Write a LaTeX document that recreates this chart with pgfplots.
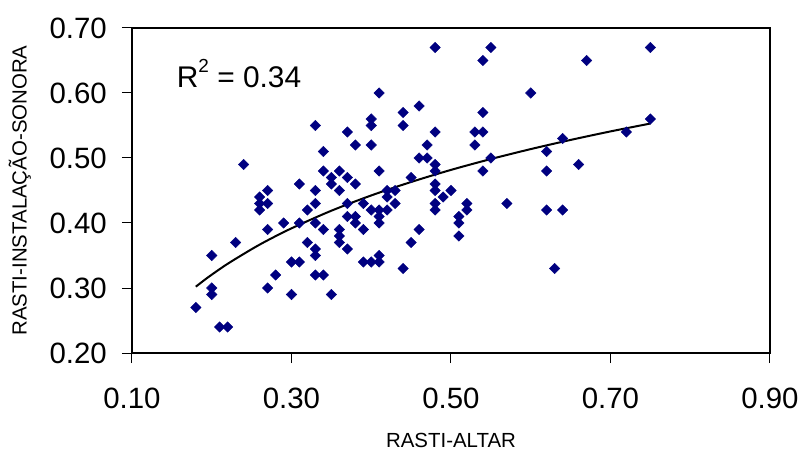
\documentclass[border=0pt]{standalone}
\usepackage{fontspec}
\setmainfont{Liberation Sans}
\usepackage{pgfplots}
\pgfplotsset{compat=1.18}
\definecolor{navy}{RGB}{0,0,128}
\begin{document}
\begin{tikzpicture}
\begin{axis}[
  scale only axis,
  width=638bp, height=325bp,
  xmin=0.1, xmax=0.9, ymin=0.2, ymax=0.7,
  xtick={0.1,0.3,0.5,0.7,0.9},
  ytick={0.2,0.3,0.4,0.5,0.6,0.7},
  xtick pos=bottom, ytick pos=left,
  tick align=outside,
  major tick length=10bp,
  tick style={black, line width=1bp},
  axis line style={black, line width=1.2bp},
  /pgf/number format/.cd, fixed, fixed zerofill, precision=2, assume math mode=true,
  /pgfplots/.cd,
  ticklabel style={font=\fontsize{29.5}{29.5}\selectfont, inner sep=0pt},
  xticklabel style={anchor=north, yshift=-25bp},
  yticklabel style={anchor=east, xshift=-15bp},
  xlabel={RASTI-ALTAR},
  ylabel={RASTI-INSTALAÇÃO-SONORA},
  label style={font=\fontsize{20.5}{20.5}\selectfont},
  xlabel style={at={(axis description cs:0.5,-0.27)}, anchor=center},
  ylabel style={at={(axis description cs:-0.176,0.5)}, anchor=center, rotate=0},
  clip=false,
]
\addplot[only marks, mark=square*, mark size=3.7bp, mark options={rotate=45, navy, fill=navy}] coordinates {
(0.18,0.27) (0.20,0.35) (0.20,0.30) (0.20,0.29) (0.21,0.24) (0.22,0.24)
(0.23,0.37) (0.26,0.44) (0.27,0.45) (0.26,0.43) (0.27,0.43) (0.26,0.42)
(0.27,0.39) (0.27,0.30) (0.28,0.32) (0.29,0.40) (0.30,0.34) (0.31,0.34)
(0.30,0.29) (0.31,0.46) (0.31,0.40) (0.32,0.42) (0.32,0.37) (0.33,0.45)
(0.33,0.43) (0.33,0.40) (0.33,0.36) (0.33,0.35) (0.33,0.32) (0.34,0.32)
(0.34,0.39) (0.35,0.29) (0.35,0.46) (0.24,0.49) (0.33,0.55) (0.34,0.51)
(0.34,0.48) (0.35,0.47) (0.36,0.48) (0.48,0.67) (0.55,0.67) (0.54,0.65)
(0.41,0.60) (0.60,0.60) (0.46,0.58) (0.44,0.57) (0.54,0.57) (0.40,0.56)
(0.40,0.55) (0.44,0.55) (0.37,0.54) (0.48,0.54) (0.53,0.54) (0.54,0.54)
(0.38,0.52) (0.40,0.52) (0.47,0.52) (0.53,0.52) (0.62,0.51) (0.46,0.50)
(0.47,0.50) (0.55,0.50) (0.48,0.49) (0.48,0.48) (0.54,0.48) (0.62,0.48)
(0.37,0.47) (0.41,0.48) (0.45,0.47) (0.38,0.46) (0.48,0.46) (0.42,0.45)
(0.43,0.45) (0.48,0.45) (0.50,0.45) (0.49,0.44) (0.42,0.44) (0.37,0.43)
(0.39,0.43) (0.43,0.43) (0.48,0.43) (0.48,0.42) (0.52,0.43) (0.52,0.42)
(0.57,0.43) (0.40,0.42) (0.41,0.42) (0.42,0.42) (0.62,0.42) (0.64,0.42)
(0.37,0.41) (0.38,0.41) (0.41,0.41) (0.51,0.41) (0.38,0.40) (0.41,0.40)
(0.51,0.40) (0.39,0.39) (0.36,0.39) (0.36,0.38) (0.36,0.37) (0.46,0.39)
(0.51,0.38) (0.45,0.37) (0.37,0.36) (0.41,0.35) (0.39,0.34) (0.40,0.34)
(0.41,0.34) (0.44,0.33) (0.63,0.33) (0.67,0.65) (0.75,0.67) (0.75,0.56)
(0.72,0.54) (0.64,0.53) (0.66,0.49) (0.36,0.45)
};
\addplot[black, line width=2bp, smooth, no marks] coordinates {
(0.18,0.3020) (0.19,0.3115) (0.20,0.3205) (0.22,0.3373) (0.25,0.3597)
(0.27,0.3733) (0.30,0.3918) (0.35,0.4189) (0.40,0.4424) (0.45,0.4631)
(0.50,0.4817) (0.55,0.4984) (0.60,0.5137) (0.65,0.5278) (0.70,0.5409)
(0.75,0.5530)
};
\node[anchor=base west, inner sep=0pt, font=\fontsize{30}{30}\selectfont] at (axis cs:0.156,0.609) {R\raisebox{0.5em}{\fontsize{19}{19}\selectfont 2} = 0.34};
\end{axis}
\pgfresetboundingbox
\path[use as bounding box] (-132bp,-101bp) rectangle (668bp,353bp);
\end{tikzpicture}
\end{document}
